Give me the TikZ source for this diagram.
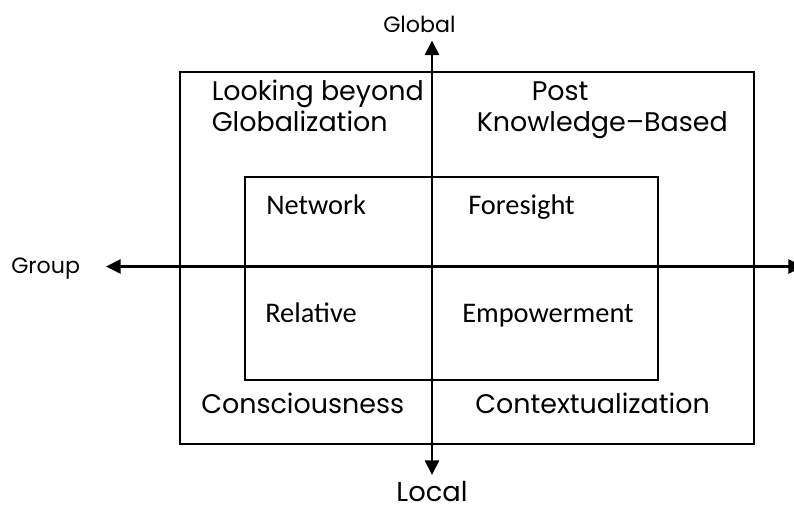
\documentclass[tikz,border=0pt]{standalone}
\usepackage{fontspec}
\newfontfamily\outerfont{Poppins}
\newfontfamily\innerfont{Carlito}
\usetikzlibrary{arrows.meta}
\tikzset{
  axis/.style={line width=2.1pt, -{Triangle[length=11pt,width=10.5pt]}},
  frame/.style={line width=1.1pt},
  outerlbl/.style={inner sep=0pt, anchor=base west, font=\outerfont\fontsize{20.2}{24}\selectfont},
  innerlbl/.style={inner sep=0pt, anchor=base west, font=\innerfont\fontsize{21.3}{25}\selectfont},
  axislbl/.style={inner sep=0pt, anchor=base west, font=\outerfont\fontsize{16.6}{19}\selectfont},
}
\begin{document}
\begin{tikzpicture}[x=0.75pt,y=-0.75pt]
\useasboundingbox (0,0) rectangle (794,506);
% frames
\draw[frame] (180,72) rectangle (754,444);
\draw[frame] (245,177) rectangle (658,380);
% axis end points
\coordinate (hL) at (106,266.5);
\coordinate (hR) at (803,266.5);
\coordinate (vT) at (432,40.5);
\coordinate (vB) at (432,475);
\coordinate (c) at (432,266.5);
\draw[axis] (c) -- (hL);
\draw[axis] (c) -- (hR);
\draw[axis] (c) -- (vT);
\draw[axis] (c) -- (vB);
% axis labels
\node[axislbl] (global) at (383,33) {Global};
\node[axislbl] (group) at (11,273.5) {Group};
\node[inner sep=0pt, anchor=base, font=\outerfont\fontsize{20.5}{24}\selectfont] (local) at (432,501.5) {Local};
% outer labels
\node[outerlbl] (lb1) at (211.5,101) {Looking beyond};
\node[outerlbl] (lb2) at (211.5,132) {Globalization};
\node[outerlbl] (pk1) at (531.5,101) {Post};
\node[outerlbl] (pk2) at (476.5,132) {Knowledge–Based};
\node[outerlbl] (cons) at (201,414) {Consciousness};
\node[outerlbl] (cont) at (475,414) {Contextualization};
% inner labels
\node[innerlbl] (net) at (266,215) {Network};
\node[innerlbl] (fore) at (468,215) {Foresight};
\node[innerlbl] (rel) at (265,322.5) {Relative};
\node[innerlbl] (emp) at (462,322.5) {Empowerment};
\end{tikzpicture}
\end{document}
